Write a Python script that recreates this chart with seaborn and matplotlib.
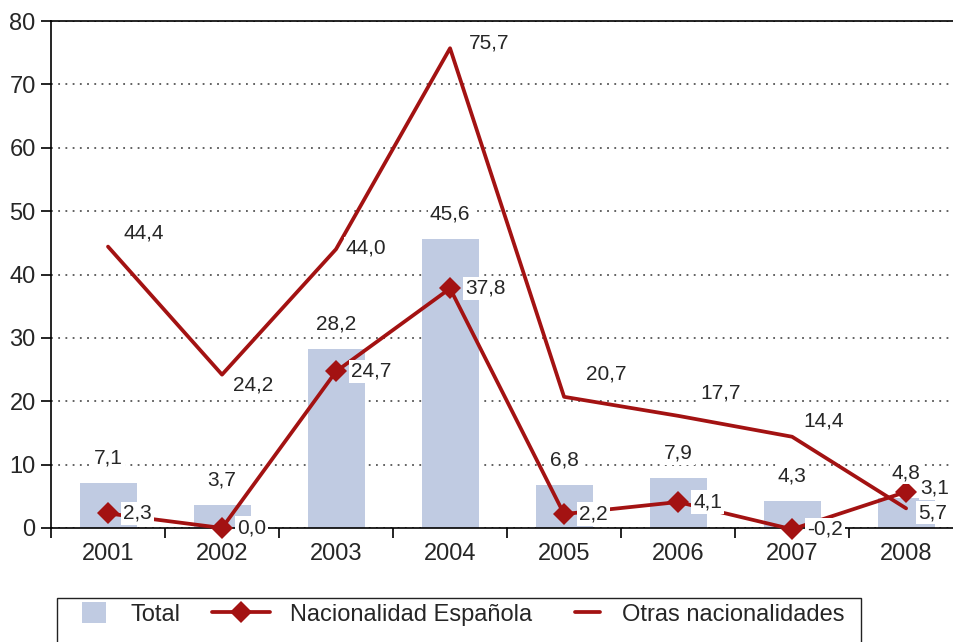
import numpy as np
import pandas as pd
import matplotlib
matplotlib.use("Agg")
import matplotlib.pyplot as plt
from matplotlib.patches import Rectangle
from matplotlib.ticker import FixedLocator
import seaborn as sns

# --- data -----------------------------------------------------------------
years = ["2001", "2002", "2003", "2004", "2005", "2006", "2007", "2008"]
total = [7.1, 3.7, 28.2, 45.6, 6.8, 7.9, 4.3, 4.8]
espanola = [2.3, 0.0, 24.7, 37.8, 2.2, 4.1, -0.2, 5.7]
otras = [44.4, 24.2, 44.0, 75.7, 20.7, 17.7, 14.4, 3.1]
series_names = ["Total", "Nacionalidad Española", "Otras nacionalidades"]
y_ticks = [0, 10, 20, 30, 40, 50, 60, 70, 80]

# --- style ----------------------------------------------------------------
sns.set_style("white")
plt.rcParams["font.family"] = ["Liberation Sans", "DejaVu Sans"]
BAR = "#c0cbe2"
RED = "#a31212"
PX = 0.72  # points per pixel at 100 dpi


def fmt(v):
    return f"{v:.1f}".replace(".", ",")


fig = plt.figure(figsize=(9.54, 6.42), dpi=100)
ax = fig.add_axes([51 / 954, 114 / 642, 903 / 954, 507 / 642])

df = pd.DataFrame({"year": years, "total": total,
                   "esp": espanola, "otras": otras})
df["pos"] = np.arange(len(years))

sns.barplot(data=df, x="year", y="total", color=BAR, width=0.5,
            saturation=1, linewidth=0, errorbar=None, ax=ax,
            label=series_names[0], zorder=2)
sns.lineplot(data=df, x="pos", y="otras", color=RED, lw=2.7, ax=ax,
             label=series_names[2], zorder=3, sort=False)
sns.lineplot(data=df, x="pos", y="esp", color=RED, lw=2.7, marker="D",
             markersize=11, markeredgewidth=0, ax=ax,
             label=series_names[1], zorder=4, clip_on=False, sort=False)
if ax.get_legend() is not None:
    ax.get_legend().remove()

# --- axes -----------------------------------------------------------------
ax.set_xlim(-0.5, 7.42)
ax.set_ylim(0, 80)
ax.set_xlabel("")
ax.set_ylabel("")
ax.set_xticks(range(len(years)))
ax.set_xticklabels(years)
ax.xaxis.set_minor_locator(FixedLocator(np.arange(-0.5, 7.6, 1.0)))
ax.set_yticks(y_ticks)
ax.tick_params(axis="x", which="major", length=0, pad=11, labelsize=17)
ax.tick_params(axis="x", which="minor", length=7, width=1.2,
               direction="out", color="black", bottom=True)
ax.tick_params(axis="y", length=7, width=1.2, direction="out",
               color="black", pad=4, labelsize=17, left=True)
ax.grid(axis="y", color="#555555", linewidth=1.3, linestyle=(0, (1, 3)))
ax.set_axisbelow(True)
for side in ["left", "bottom", "top"]:
    ax.spines[side].set_visible(True)
    ax.spines[side].set_color("black")
    ax.spines[side].set_linewidth(1.2)
ax.spines["right"].set_visible(False)

# --- value labels ---------------------------------------------------------
box = dict(facecolor="white", edgecolor="none", pad=1.5)
LABEL_SIZE = 15

for i, v in enumerate(total):
    ax.annotate(fmt(v), (i, v), xytext=(0, 25 * PX),
                textcoords="offset points", ha="center", va="center",
                fontsize=LABEL_SIZE, bbox=box, zorder=6,
                annotation_clip=False)

esp_off = [(15, 0)] * 7 + [(12, -21)]
for i, v in enumerate(espanola):
    dx, dy = esp_off[i]
    ax.annotate(fmt(v), (i, v), xytext=(dx * PX, dy * PX),
                textcoords="offset points", ha="left", va="center",
                fontsize=LABEL_SIZE, bbox=box, zorder=6,
                annotation_clip=False)

otras_off = [(36, 14), (31, -10), (30, 1), (39, 5),
             (42, 23), (43, 23), (32, 16), (29, 20)]
for i, v in enumerate(otras):
    dx, dy = otras_off[i]
    ax.annotate(fmt(v), (i, v), xytext=(dx * PX, dy * PX),
                textcoords="offset points", ha="center", va="center",
                fontsize=LABEL_SIZE, bbox=box, zorder=6,
                annotation_clip=False)

# --- legend ---------------------------------------------------------------
bars = ax.patches[0]
by_label = {l.get_label(): l for l in ax.lines}
line_esp = by_label[series_names[1]]
line_otr = by_label[series_names[2]]

fig.add_artist(Rectangle((57 / 954, -0.05), (861 - 57) / 954,
                         0.05 + (642 - 598) / 642, transform=fig.transFigure,
                         facecolor="none", edgecolor="#222222", lw=1.0,
                         clip_on=False))

y_leg = (642 - 614) / 642
entries = [
    (bars, series_names[0], 82, 1.0, 1.06),
    (line_esp, series_names[1], 212, 2.45, 0.85),
    (line_otr, series_names[2], 575, 1.06, 0.93),
]
for handle, name, x0, hl, tp in entries:
    leg = fig.legend([handle], [name], loc="center left",
                     bbox_to_anchor=(x0 / 954, y_leg), frameon=False,
                     fontsize=17, handlelength=hl, handleheight=1.0,
                     handletextpad=tp, borderpad=0, borderaxespad=0,
                     numpoints=1)

fig.savefig("out.png", dpi=100)
